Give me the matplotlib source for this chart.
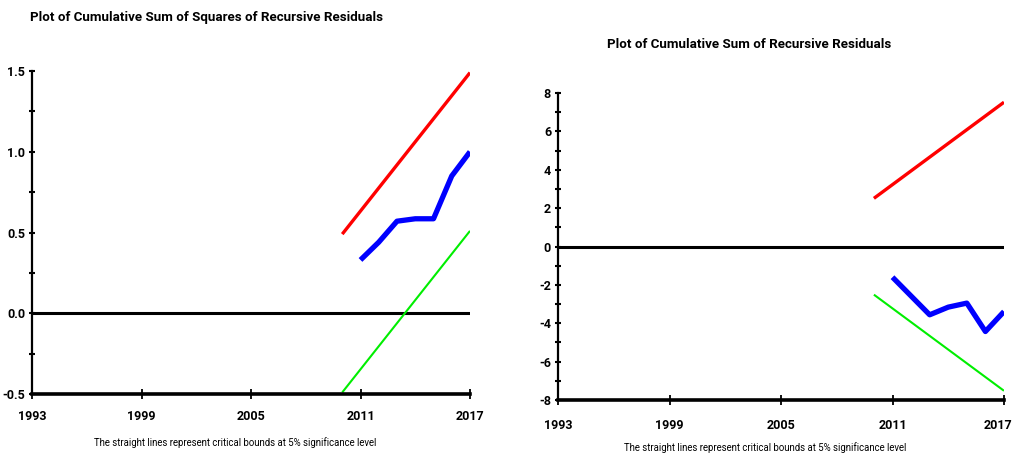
import matplotlib
matplotlib.use("Agg")
import matplotlib.pyplot as plt
import matplotlib.transforms as mtransforms
from matplotlib.ticker import MultipleLocator

plt.rcParams['font.family'] = ['Roboto', 'DejaVu Sans']

# CUSUM of squares (left panel)
sq_years = [2011, 2012, 2013, 2014, 2015, 2016, 2017]
sq_values = [0.33, 0.44, 0.57, 0.585, 0.585, 0.85, 1.0]
sq_bound_years = [2010, 2017]
sq_upper = [0.49, 1.49]
sq_lower = [-0.49, 0.51]

# CUSUM (right panel)
cs_years = [2011, 2012, 2013, 2014, 2015, 2016, 2017]
cs_values = [-1.60, -2.58, -3.56, -3.16, -2.95, -4.43, -3.39]
cs_bound_years = [2010, 2017]
cs_upper = [2.51, 7.52]
cs_lower = [-2.51, -7.52]

year_ticks = [1993, 1999, 2005, 2011, 2017]
note = "The straight lines represent critical bounds at 5% significance level"

W, H = 1014, 455
fig = plt.figure(figsize=(W / 100, H / 100), dpi=100)


def px_axes(x0, y_top, x1, y_bot):
    return fig.add_axes([x0 / W, (H - y_bot) / H, (x1 - x0) / W, (y_bot - y_top) / H])


def style(ax, ylim, ymajor, yminor, yfmt):
    ax.set_xlim(1993, 2017)
    ax.set_ylim(*ylim)
    for s in ('top', 'right'):
        ax.spines[s].set_visible(False)
    ax.spines['left'].set_linewidth(1.6)
    ax.spines['bottom'].set_linewidth(2.6)
    ax.set_xticks(year_ticks)
    ax.yaxis.set_major_locator(MultipleLocator(ymajor))
    ax.yaxis.set_minor_locator(MultipleLocator(yminor))
    ax.yaxis.set_major_formatter(yfmt)
    ax.tick_params(axis='x', direction='inout', length=7, width=1.3, pad=8,
                   labelsize=9)
    ax.tick_params(axis='y', which='both', direction='inout', length=4, width=1.5,
                   pad=3, labelsize=9)
    for lab in ax.get_xticklabels() + ax.get_yticklabels():
        lab.set_fontweight('bold')
    for t in ax.xaxis.get_major_ticks() + ax.yaxis.get_major_ticks() + ax.yaxis.get_minor_ticks():
        t.tick1line.set_clip_on(False)
        t.tick2line.set_visible(False)
    ax.patch.set_visible(False)


# Left panel
ax1 = px_axes(32, 71, 470, 394)
ax1.axhline(0, color='black', lw=2.2, zorder=1)
ax1.plot(sq_bound_years, sq_upper, color='#ff0000', lw=2.4, solid_capstyle='butt')
ax1.plot(sq_bound_years, sq_lower, color='#00ee00', lw=1.5, solid_capstyle='butt')
ax1.plot(sq_years, sq_values, color='#0000ff', lw=3.8, solid_capstyle='butt')
style(ax1, (-0.5, 1.5), 0.5, 0.25, lambda v, p: f"{v:.1f}")
fig.text(206 / W, 1 - 17 / H, "Plot of Cumulative Sum of Squares of Recursive Residuals",
         ha='center', va='center', fontsize=9.6, fontweight='bold')
fig.text(235 / W, 1 - 443 / H, note, ha='center', va='center', fontsize=6.9)

# Right panel
ax2 = px_axes(558, 93, 1004, 400)
ax2.axhline(0, color='black', lw=2.2, zorder=1)
ax2.plot(cs_bound_years, cs_upper, color='#ff0000', lw=2.4, solid_capstyle='butt')
ax2.plot(cs_bound_years, cs_lower, color='#00ee00', lw=1.5, solid_capstyle='butt')
ax2.plot(cs_years, cs_values, color='#0000ff', lw=3.8, solid_capstyle='butt')
style(ax2, (-8, 8), 2, 1, lambda v, p: f"{v:.0f}")
ax2.tick_params(axis='x', pad=10)
# nudge the last year label so it stays inside the figure
last = ax2.get_xticklabels()[-1]
last.set_transform(last.get_transform() +
                   mtransforms.ScaledTranslation(-6 / 100, 0, fig.dpi_scale_trans))
fig.text(749 / W, 1 - 45 / H, "Plot of Cumulative Sum of Recursive Residuals",
         ha='center', va='center', fontsize=9.6, fontweight='bold')
fig.text(765 / W, 1 - 448 / H, note, ha='center', va='center', fontsize=6.9)

fig.savefig("out.png", dpi=100)
